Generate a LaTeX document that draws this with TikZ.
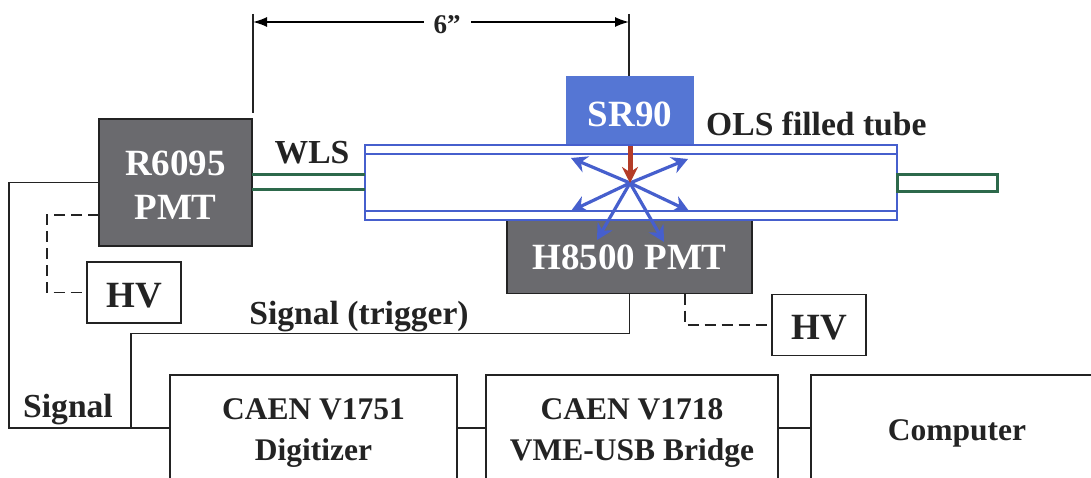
\documentclass[tikz,border=0pt]{standalone}
\usepackage{fontspec}
\setmainfont{Liberation Serif}
\usetikzlibrary{arrows.meta, positioning, calc}
\definecolor{pmtgray}{RGB}{106,106,110}
\definecolor{srcblue}{RGB}{85,118,212}
\definecolor{tubeblue}{RGB}{70,95,205}
\definecolor{fibergreen}{RGB}{45,105,75}
\definecolor{betared}{RGB}{180,60,40}
\definecolor{inkdark}{RGB}{35,35,35}
\newcommand{\drop}[1]{\vphantom{#1}\smash{\raisebox{-3pt}{#1}}}
\begin{document}
\begin{tikzpicture}[
  x=1pt, y=-1pt,
  pmtbox/.style={draw=inkdark, fill=pmtgray, text=white, line width=1.5pt,
                 inner sep=0pt, outer sep=0pt, align=center,
                 font=\fontsize{37}{44}\selectfont\bfseries},
  srcbox/.style={fill=srcblue, text=white, inner sep=0pt, outer sep=0pt,
                 font=\fontsize{37}{45}\selectfont\bfseries},
  hvbox/.style={draw=inkdark, fill=white, line width=1.5pt, text=inkdark,
                inner sep=0pt, outer sep=0pt, minimum width=94pt, minimum height=61pt,
                font=\fontsize{37}{45}\selectfont\bfseries},
  daqbox/.style={draw=inkdark, fill=white, line width=1.5pt, text=inkdark,
                 inner sep=0pt, outer sep=0pt, align=center, minimum height=116pt,
                 font=\fontsize{31.5}{41}\selectfont\bfseries},
  lbl/.style={text=inkdark, inner sep=0pt, font=\fontsize{33.6}{40}\selectfont\bfseries},
  wire/.style={draw=inkdark, line width=1.5pt},
  hvwire/.style={wire, dash pattern=on 11pt off 6pt},
  tubeline/.style={draw=tubeblue, line width=1.2pt},
  fiber/.style={draw=fibergreen, line width=3pt},
  dimarr/.style={{Latex[length=14pt,width=10pt]}-{Latex[length=14pt,width=10pt]}, draw=black, line width=1.6pt},
  betaarr/.style={-{Stealth[length=16pt,width=16pt]}, draw=betared, line width=5pt},
  lightarr/.style={-{Stealth[length=16pt,width=17pt]}, draw=tubeblue, line width=3.2pt}
]
\clip (0,0) rectangle (1091,478);
\fill[white] (0,0) rectangle (1091,478);
% detector parts
\node[pmtbox, minimum width=153pt, minimum height=127pt] (r6095) at (175.5,182.5) {\drop{R6095}\\\drop{PMT}};
\node[pmtbox, minimum width=245pt, minimum height=73pt] (h8500) at (629.5,257) {H8500 PMT};
\node[srcbox, minimum width=128pt, minimum height=70pt] (sr90) at (630,111) {\drop{SR90}};
\node[draw=tubeblue, fill=white, line width=1.2pt, inner sep=0pt, outer sep=0pt,
      minimum width=532pt, minimum height=75pt] (tube) at (631,182.5) {};
\node[draw=fibergreen, line width=3pt, inner sep=0pt, outer sep=0pt,
      minimum width=100pt, minimum height=17pt] (fiberR) at (947,183) {};
\draw[tubeline] (tube.west |- 0,154) -- (tube.east |- 0,154);
\draw[tubeline] (tube.west |- 0,211) -- (tube.east |- 0,211);
\draw[fiber] (r6095.east |- 0,175) -- (tube.west |- 0,175);
\draw[fiber] (r6095.east |- 0,190) -- (tube.west |- 0,190);
% hv and daq boxes
\node[hvbox] (hvL) at (134,292.5) {\drop{HV}};
\node[hvbox] (hvR) at (819,325) {\drop{HV}};
\node[daqbox, minimum width=287pt] (v1751) at (313.5,433) {CAEN V1751\\Digitizer};
\node[daqbox, minimum width=292pt] (v1718) at (632,433) {CAEN V1718\\VME-USB Bridge};
\node[daqbox, minimum width=292pt] (comp) at (957,433) {Computer};
% labels
\node[lbl] (wlsLbl) at (312,153) {WLS};
\node[lbl, anchor=west] (olsLbl) at (706,124) {OLS filled tube};
\node[lbl] (trigLbl) at (359,317) {Signal (trigger)};
\node[lbl] (sigLbl) at (68,410) {Signal};
% 6 inch dimension
\coordinate (dimL) at (253,22);
\coordinate (dimR) at (629,22);
\coordinate (busY) at (0,428);
\draw[wire] (253,14) -- (253,113);
\draw[wire] (629,14) -- (sr90.north -| dimR);
\draw[dimarr] (dimL) -- node[fill=white, text=inkdark, inner sep=10pt, pos=0.516,
  font=\fontsize{27}{32}\selectfont\bfseries] (dimLbl) {\drop{6”}} (dimR);
% wiring
\coordinate (sigTurn) at (9,182.5);
\draw[wire] (r6095.west) -- (sigTurn) |- (v1751.west |- busY);
\draw[wire] (h8500.south) -- ++(0,40) -| (131,428);
\coordinate (hvTurnL) at (47,215);
\draw[hvwire] (r6095.west |- hvTurnL) -- (hvTurnL) |- (hvL.west);
\coordinate (hvTurnR) at (685,325);
\draw[hvwire] (h8500.south -| hvTurnR) -- (hvTurnR) -- (hvR.west);
\draw[wire] (v1751.east |- busY) -- (v1718.west |- busY);
\draw[wire] (v1718.east |- busY) -- (comp.west |- busY);
% scintillation star
\coordinate (star) at (630,183);
\foreach \tx/\ty in {571/158,688/159,571/211,689/211,597/240,664/242}
  \draw[lightarr] (star) -- (\tx,\ty);
\draw[betaarr] (sr90.south -| star) -- (star);
\end{tikzpicture}
\end{document}
